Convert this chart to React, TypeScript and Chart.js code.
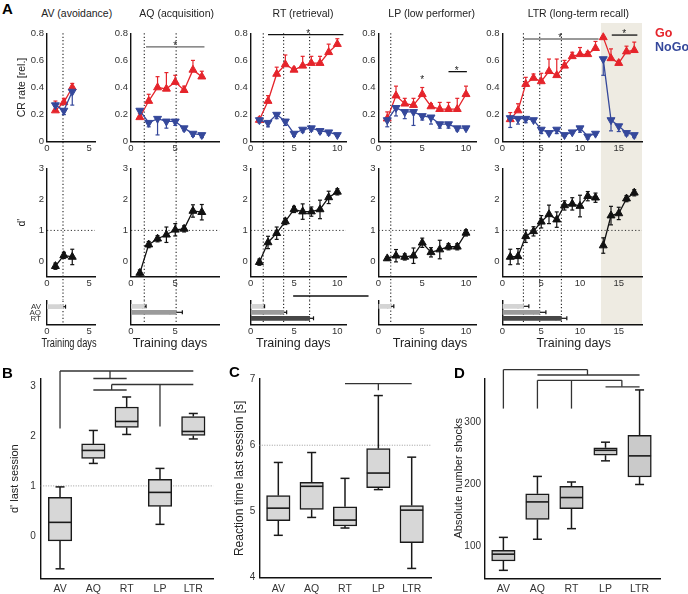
import React, { useEffect, useRef } from 'react';
import { Chart, registerables } from 'chart.js';

Chart.register(...registerables);

const FONT = '"Liberation Sans", Arial, Helvetica, sans-serif';

// ---------------- data ----------------
const groups = ['AV', 'AQ', 'RT', 'LP', 'LTR'];
const panelTitles = ['AV (avoidance)', 'AQ (acquisition)', 'RT (retrieval)', 'LP (low performer)', 'LTR (long-term recall)'];
const critLabels = ['AV', 'AQ', 'RT'];
const crTicks = [0, 0.2, 0.4, 0.6, 0.8];
const dTicks = [0, 1, 2, 3];

// AV (avoidance)
const daysAV = [1, 2, 3];
const goAV = [0.23, 0.29, 0.4];
const goErrAV = [0.07, 0.03, 0.03];
const nogoAV = [0.27, 0.23, 0.37];
const nogoErrAV = [0.04, 0.03, 0.1];
const dAV = [-0.16, 0.19, 0.14];
const dErrAV = [0.1, 0.1, 0.25];
const critAV = [1.9];
const critErrAV = [0.3];

// AQ (acquisition)
const daysAQ = [1, 2, 3, 4, 5, 6, 7, 8];
const goAQ = [0.18, 0.3, 0.4, 0.39, 0.44, 0.38, 0.53, 0.48];
const goErrAQ = [0.03, 0.05, 0.08, 0.12, 0.05, 0.03, 0.07, 0.04];
const nogoAQ = [0.23, 0.14, 0.17, 0.15, 0.15, 0.1, 0.06, 0.05];
const nogoErrAQ = [0.04, 0.03, 0.12, 0.05, 0.03, 0.02, 0.02, 0.02];
const dAQ = [-0.38, 0.54, 0.73, 0.86, 1.02, 1.05, 1.63, 1.59];
const dErrAQ = [0.1, 0.1, 0.1, 0.25, 0.2, 0.1, 0.2, 0.25];
const critAQ = [1.5, 5.1];
const critErrAQ = [0.2, 0.7];

// RT (retrieval)
const daysRT = [1, 2, 3, 4, 5, 6, 7, 8, 9, 10];
const goRT = [0.16, 0.3, 0.5, 0.57, 0.53, 0.56, 0.58, 0.58, 0.66, 0.72];
const goErrRT = [0.02, 0.04, 0.05, 0.07, 0.02, 0.07, 0.05, 0.05, 0.06, 0.04];
const nogoRT = [0.16, 0.14, 0.2, 0.15, 0.06, 0.09, 0.1, 0.08, 0.07, 0.05];
const nogoErrRT = [0.02, 0.03, 0.03, 0.03, 0.02, 0.02, 0.02, 0.02, 0.02, 0.01];
const dRT = [-0.03, 0.61, 0.91, 1.29, 1.68, 1.61, 1.61, 1.68, 2.07, 2.25];
const dErrRT = [0.1, 0.2, 0.2, 0.1, 0.1, 0.25, 0.15, 0.3, 0.2, 0.1];
const critRT = [1.45, 3.8, 6.8];
const critErrRT = [0.15, 0.35, 0.45];

// LP (low performer)
const daysLP = [1, 2, 3, 4, 5, 6, 7, 8, 9, 10];
const goLP = [0.17, 0.34, 0.28, 0.27, 0.35, 0.26, 0.24, 0.24, 0.24, 0.35];
const goErrLP = [0.05, 0.07, 0.04, 0.05, 0.05, 0.02, 0.05, 0.05, 0.08, 0.06];
const nogoLP = [0.16, 0.25, 0.22, 0.22, 0.19, 0.18, 0.13, 0.13, 0.1, 0.1];
const nogoErrLP = [0.05, 0.06, 0.05, 0.1, 0.03, 0.05, 0.03, 0.03, 0.02, 0.01];
const dLP = [0.09, 0.18, 0.14, 0.18, 0.6, 0.29, 0.38, 0.47, 0.47, 0.92];
const dErrLP = [0.05, 0.2, 0.1, 0.25, 0.15, 0.15, 0.3, 0.1, 0.1, 0.1];
const critLP = [1.4];
const critErrLP = [0.35];

// LTR (long-term recall)
const daysLTR = [1, 2, 3, 4, 5, 6, 7, 8, 9, 10, 11, 12, 13, 14, 15, 16, 17];
const goLTR = [0.165, 0.23, 0.425, 0.47, 0.445, 0.52, 0.49, 0.56, 0.63, 0.645, 0.645, 0.69, 0.77, 0.615, 0.58, 0.665, 0.675];
const goErrLTR = [0.05, 0.05, 0.05, 0.03, 0.06, 0.09, 0.12, 0.04, 0.03, 0.05, 0.02, 0.05, 0, 0.07, 0.02, 0.04, 0.06];
const nogoLTR = [0.175, 0.17, 0.17, 0.16, 0.09, 0.065, 0.09, 0.05, 0.07, 0.1, 0.04, 0.06, 0.61, 0.16, 0.115, 0.065, 0.05];
const nogoErrLTR = [0.07, 0.04, 0.03, 0.01, 0.03, 0.01, 0.03, 0.01, 0.01, 0.03, 0.02, 0.01, 0.12, 0.08, 0.04, 0.02, 0.02];
const dLTR = [0.14, 0.16, 0.81, 0.97, 1.28, 1.52, 1.35, 1.81, 1.86, 1.79, 2.11, 2.06, 0.51, 1.48, 1.55, 2.03, 2.22];
const dErrLTR = [0.25, 0.25, 0.2, 0.15, 0.2, 0.3, 0.25, 0.15, 0.2, 0.35, 0.15, 0.15, 0.25, 0.3, 0.2, 0.1, 0.1];
const critLTR = [2.7, 4.8, 7.6];
const critErrLTR = [0.7, 0.8, 0.7];
const recallStartLTR = 12.7;
const gapAfterLTR = 12;

// significance annotations (data units)
const sigAQ = [{ x0: 1.7, x1: 8.3, y: 0.7, color: '#666' }];
const starsAQ = [{ x: 5.0, y: 0.73 }];
const sigRT = [{ x0: 2.0, x1: 10.7, y: 0.79, color: '#111' }];
const starsRT = [{ x: 6.65, y: 0.82 }];
const sigLP = [{ x0: 8.0, x1: 10.1, y: 0.517, color: '#111' }];
const starsLP = [{ x: 5.0, y: 0.475 }, { x: 8.95, y: 0.545 }];
const sigLTR = [{ x0: 2.7, x1: 12.4, y: 0.758, color: '#777' }, { x0: 14.1, x1: 17.4, y: 0.787, color: '#111' }];
const starsLTR = [{ x: 7.45, y: 0.79 }, { x: 15.7, y: 0.818 }];
const crossLineRT = [[4.9, -0.72, 13.6, -0.72]];

// box plots: d' last session
const dMin = [-0.66, 1.45, 2.03, 0.23, 1.94];
const dQ1 = [-0.1, 1.55, 2.17, 0.59, 2.01];
const dMed = [0.27, 1.71, 2.29, 0.87, 2.09];
const dQ3 = [0.77, 1.84, 2.58, 1.13, 2.39];
const dMax = [0.98, 2.11, 2.78, 1.35, 2.45];
const bracketsB = [
  [1, 2.15, 1, 3.3], [1, 3.3, 5, 3.3], [2.5, 3.3, 2.5, 3.15], [2, 3.15, 3, 3.15],
  [2.55, 3.03, 5, 3.03], [4, 3.03, 4, 2.19], [2.55, 3.03, 2.55, 2.92], [2, 2.92, 3, 2.92],
];

// box plots: reaction time last session [s]
const rtMin = [4.64, 4.91, 4.75, 5.33, 4.14];
const rtQ1 = [4.86, 5.03, 4.78, 5.36, 4.53];
const rtMed = [5.05, 5.38, 4.87, 5.58, 5.02];
const rtQ3 = [5.24, 5.44, 5.07, 5.95, 5.09];
const rtMax = [5.74, 5.89, 5.5, 6.75, 5.82];
const bracketsC = [[3, 6.93, 5, 6.93], [4, 6.93, 4, 6.83]];

// box plots: absolute number of shocks
const shMin = [62, 112, 129, 238, 200];
const shQ1 = [77, 144, 161, 247, 212];
const shMed = [88, 172, 179, 255, 246];
const shQ3 = [94, 185, 197, 259, 279];
const shMax = [115, 213, 204, 268, 352];
const bracketsD = [
  [1, 322, 1, 384.6], [1, 384.6, 3.47, 384.6], [3.47, 384.6, 3.47, 376], [2, 376, 5, 376],
  [2, 322, 2, 367.5], [3, 322, 3, 367.5], [2, 367.5, 4.48, 367.5], [4.48, 367.5, 4.48, 357], [4, 357, 5, 357],
];

// ---------------- styling ----------------
const RED = '#e5242b';
const BLUE = '#35489b';
const BLACK = '#111111';
const SHADE = '#eeebe2';
const critColors = ['#d4d4d4', '#9b9b9b', '#474747'];

const cols: any[] = [
  { days: daysAV, go: goAV, goErr: goErrAV, nogo: nogoAV, nogoErr: nogoErrAV, d: dAV, dErr: dErrAV, crit: critAV, critErr: critErrAV, xmax: 5.7, xticks: [0, 5], sig: [], stars: [] },
  { days: daysAQ, go: goAQ, goErr: goErrAQ, nogo: nogoAQ, nogoErr: nogoErrAQ, d: dAQ, dErr: dErrAQ, crit: critAQ, critErr: critErrAQ, xmax: 10, xticks: [0, 5], sig: sigAQ, stars: starsAQ },
  { days: daysRT, go: goRT, goErr: goErrRT, nogo: nogoRT, nogoErr: nogoErrRT, d: dRT, dErr: dErrRT, crit: critRT, critErr: critErrRT, xmax: 11, xticks: [0, 5, 10], sig: sigRT, stars: starsRT, segs: crossLineRT },
  { days: daysLP, go: goLP, goErr: goErrLP, nogo: nogoLP, nogoErr: nogoErrLP, d: dLP, dErr: dErrLP, crit: critLP, critErr: critErrLP, xmax: 11.2, xticks: [0, 5, 10], sig: sigLP, stars: starsLP },
  { days: daysLTR, go: goLTR, goErr: goErrLTR, nogo: nogoLTR, nogoErr: nogoErrLTR, d: dLTR, dErr: dErrLTR, crit: critLTR, critErr: critErrLTR, xmax: 18, xticks: [0, 5, 10, 15], sig: sigLTR, stars: starsLTR, shadeFrom: recallStartLTR, gapAfter: gapAfterLTR },
];

// layout (pixels)
const colL = [47, 131, 250.7, 378.5, 502.5];
const colR = [95, 219.5, 346, 476.5, 642];
const canvasL = [10, 104, 224, 352, 476];
const titleX = [76.7, 176.7, 303, 431.7, 578.3];
const daysLabelX = [69.2, 170, 293.3, 430, 573.7];
const daysLabelSqueeze = [0.74, 1, 1, 1, 1];

type R = { l: number; t: number; r: number; b: number };

// ---------------- plugin ----------------
function line(ctx: any, x0: number, y0: number, x1: number, y1: number) {
  ctx.beginPath();
  ctx.moveTo(x0, y0);
  ctx.lineTo(x1, y1);
  ctx.stroke();
}

function deco(cfg: any) {
  return {
    id: 'deco',
    beforeDraw(chart: any) {
      const { ctx, chartArea: a, scales } = chart;
      const x = scales.x;
      if (cfg.shade) {
        const x0 = x.getPixelForValue(cfg.shade[0]);
        const x1 = x.getPixelForValue(cfg.shade[1]);
        const t = cfg.shadeTop ?? 0;
        const b = cfg.shadeBottom === 'area' ? a.bottom : chart.height;
        ctx.save();
        ctx.fillStyle = SHADE;
        ctx.fillRect(x0, t, x1 - x0, b - t);
        ctx.restore();
      }
    },
    beforeDatasetsDraw(chart: any) {
      const { ctx, chartArea: a, scales } = chart;
      const x = scales.x;
      const y = scales.y;
      ctx.save();
      if (cfg.vlines) {
        ctx.strokeStyle = '#222';
        ctx.lineWidth = 1.1;
        ctx.setLineDash([1.2, 2.2]);
        const t = cfg.vTop === 'area' ? a.top : 0;
        const b = cfg.vBottom === 'area' ? a.bottom : chart.height;
        cfg.vlines.forEach((v: number) => {
          const px = x.getPixelForValue(v);
          line(ctx, px, t, px, b);
        });
      }
      if (cfg.hline != null) {
        ctx.strokeStyle = cfg.hColor || '#333';
        ctx.lineWidth = 1;
        ctx.setLineDash(cfg.hDash || [1.2, 2.2]);
        const py = y.getPixelForValue(cfg.hline);
        line(ctx, a.left, py, a.right, py);
      }
      ctx.setLineDash([]);
      (cfg.errs || []).forEach((e: any) => {
        ctx.strokeStyle = e.color;
        ctx.lineWidth = 1.2;
        e.vals.forEach((v: number, j: number) => {
          const er = e.errs[j];
          if (!er) return;
          if (e.dir === 'x') {
            const py = y.getPixelForValue(j + 1);
            const xa = x.getPixelForValue(v - er);
            const xb = x.getPixelForValue(v + er);
            line(ctx, xa, py, xb, py);
            line(ctx, xa, py - 2, xa, py + 2);
            line(ctx, xb, py - 2, xb, py + 2);
          } else {
            const px = x.getPixelForValue(e.xs[j]);
            const lo = e.dir === 'up' ? v : v - er;
            const hi = e.dir === 'down' ? v : v + er;
            const ya = y.getPixelForValue(lo);
            const yb = y.getPixelForValue(hi);
            line(ctx, px, ya, px, yb);
            if (e.dir !== 'down') line(ctx, px - 2, yb, px + 2, yb);
            if (e.dir !== 'up') line(ctx, px - 2, ya, px + 2, ya);
          }
        });
      });
      if (cfg.box) {
        const bx = cfg.box;
        ctx.strokeStyle = '#1a1a1a';
        ctx.lineWidth = 1.5;
        bx.min.forEach((_: number, j: number) => {
          const px = x.getPixelForValue(j + 1);
          const yMin = y.getPixelForValue(bx.min[j]);
          const yQ1 = y.getPixelForValue(bx.q1[j]);
          const yQ3 = y.getPixelForValue(bx.q3[j]);
          const yMax = y.getPixelForValue(bx.max[j]);
          line(ctx, px, yQ3, px, yMax);
          line(ctx, px - 4.5, yMax, px + 4.5, yMax);
          line(ctx, px, yQ1, px, yMin);
          line(ctx, px - 4.5, yMin, px + 4.5, yMin);
        });
      }
      ctx.restore();
    },
    afterDatasetsDraw(chart: any) {
      const { ctx, scales } = chart;
      const x = scales.x;
      const y = scales.y;
      ctx.save();
      ctx.setLineDash([]);
      if (cfg.box) {
        ctx.strokeStyle = '#1a1a1a';
        ctx.lineWidth = 1.6;
        cfg.box.med.forEach((m: number, j: number) => {
          const px = x.getPixelForValue(j + 1);
          const py = y.getPixelForValue(m);
          line(ctx, px - 11.5, py, px + 11.5, py);
        });
      }
      (cfg.sig || []).forEach((s: any) => {
        ctx.strokeStyle = s.color;
        ctx.lineWidth = 1.3;
        const py = y.getPixelForValue(s.y);
        line(ctx, x.getPixelForValue(s.x0), py, x.getPixelForValue(s.x1), py);
      });
      ctx.fillStyle = '#222';
      ctx.font = `10px ${FONT}`;
      ctx.textAlign = 'center';
      ctx.textBaseline = 'alphabetic';
      (cfg.stars || []).forEach((s: any) => {
        ctx.fillText('*', x.getPixelForValue(s.x), y.getPixelForValue(s.y) + 6);
      });
      if (cfg.segs) {
        ctx.strokeStyle = cfg.segColor || '#111';
        ctx.lineWidth = 1.3;
        cfg.segs.forEach((s: number[]) => {
          line(ctx, x.getPixelForValue(s[0]), y.getPixelForValue(s[1]), x.getPixelForValue(s[2]), y.getPixelForValue(s[3]));
        });
      }
      ctx.restore();
    },
  };
}

// ---------------- chart helpers ----------------
function lin(min: number, max: number, ticks: number[], fmt: (v: number) => string, o: any = {}) {
  return {
    type: 'linear',
    min,
    max,
    bounds: 'data',
    offset: false,
    reverse: !!o.reverse,
    grid: { display: false, drawTicks: false, offset: false },
    border: { display: true, color: '#111', width: 1.4 },
    ticks: {
      display: o.labels !== false,
      font: { family: FONT, size: o.size ?? 9.5 },
      color: '#333',
      padding: o.pad ?? 2,
      autoSkip: false,
      maxRotation: 0,
      minRotation: 0,
      callback: (v: any) => fmt(Number(v)),
    },
    title: o.title
      ? { display: true, text: o.title, font: { family: FONT, size: o.titleSize ?? 10.5 }, color: '#222', padding: o.titlePad ?? { top: 0, bottom: 0 } }
      : { display: false },
    afterBuildTicks: (s: any) => {
      s.ticks = ticks.map((v) => ({ value: v }));
    },
    afterFit: (s: any) => {
      if (o.w != null) s.width = o.w;
      if (o.h != null) s.height = o.h;
    },
  };
}

function make(cv: HTMLCanvasElement, c: R, a: R, type: string, data: any, xs: any, ys: any, plugin: any, extra: any = {}) {
  return new Chart(cv as any, {
    type: type as any,
    data,
    options: {
      animation: false,
      responsive: false,
      maintainAspectRatio: false,
      events: [],
      layout: { padding: { left: 0, right: c.r - a.r, top: a.t - c.t, bottom: 0 } },
      plugins: { legend: { display: false }, tooltip: { enabled: false } },
      scales: { x: xs, y: ys },
      ...extra,
    } as any,
    plugins: [plugin],
  });
}

function lineDs(xs: number[], ys: number[], color: string, rot: number, gapAfter?: number) {
  const ds: any = {
    data: xs.map((x, j) => ({ x, y: ys[j] })),
    borderColor: color,
    backgroundColor: color,
    borderWidth: 1.3,
    pointStyle: 'triangle',
    pointRadius: 4.6,
    pointRotation: rot,
    pointBorderWidth: 1,
    pointBackgroundColor: color,
    pointBorderColor: color,
    tension: 0,
    clip: false,
  };
  if (gapAfter) {
    ds.segment = { borderColor: (ctx: any) => (ctx.p0DataIndex === gapAfter - 1 ? 'rgba(0,0,0,0)' : color) };
  }
  return ds;
}

function boxDs(q1: number[], q3: number[], fill: string) {
  return {
    data: q1.map((v, j) => ({ x: j + 1, y: [v, q3[j]] })),
    backgroundColor: fill,
    borderColor: '#1a1a1a',
    borderWidth: 1.5,
    borderSkipped: false,
    barThickness: 23.5,
  };
}

const fmtCR = (v: number) => (v === 0 ? '0' : v.toFixed(1));
const fmtInt = (v: number) => String(v);

type Spec = { c: R; build: (cv: HTMLCanvasElement) => Chart };
const specs: Spec[] = [];

// top row (CR rate)
cols.forEach((col, i) => {
  const c = { l: canvasL[i], t: 20, r: Math.round(colR[i] + 10), b: 160 };
  const a = { l: colL[i], t: 33.3, r: colR[i], b: 141.7 };
  specs.push({
    c,
    build: (cv) =>
      make(
        cv, c, a, 'line',
        { datasets: [lineDs(col.days, col.nogo, BLUE, 180, col.gapAfter), lineDs(col.days, col.go, RED, 0, col.gapAfter)] },
        lin(0, col.xmax, col.xticks, fmtInt, { h: c.b - a.b, pad: 1 }),
        lin(0, 0.8, crTicks, fmtCR, { w: a.l - c.l, pad: 3, title: i === 0 ? 'CR rate [rel.]' : undefined, titlePad: { top: 5.4, bottom: 0 } }),
        deco({
          vlines: col.crit, vTop: 'area', vBottom: 'canvas',
          shade: col.shadeFrom ? [col.shadeFrom, col.xmax] : null, shadeTop: 3,
          errs: [
            { xs: col.days, vals: col.nogo, errs: col.nogoErr, dir: 'down', color: BLUE },
            { xs: col.days, vals: col.go, errs: col.goErr, dir: 'up', color: RED },
          ],
          sig: col.sig, stars: col.stars,
        })
      ),
  });
});

// middle row (d')
cols.forEach((col, i) => {
  const c = { l: canvasL[i], t: 160, r: Math.round(colR[i] + 10), b: 300 };
  const a = { l: colL[i], t: 168.3, r: colR[i], b: 276.7 };
  specs.push({
    c,
    build: (cv) =>
      make(
        cv, c, a, 'line',
        { datasets: [lineDs(col.days, col.d, BLACK, 0, col.gapAfter)] },
        lin(0, col.xmax, col.xticks, fmtInt, { h: c.b - a.b, pad: 1 }),
        lin(-0.5, 3, dTicks, fmtInt, { w: a.l - c.l, pad: 3, title: i === 0 ? "d'" : undefined, titlePad: { top: 5.4, bottom: 0 } }),
        deco({
          vlines: col.crit, vTop: 'canvas', vBottom: 'canvas',
          shade: col.shadeFrom ? [col.shadeFrom, col.xmax] : null, shadeTop: 0,
          hline: 1, hColor: '#333', hDash: [1.2, 2.2],
          errs: [{ xs: col.days, vals: col.d, errs: col.dErr, dir: 'both', color: BLACK }],
        })
      ),
  });
});

// bottom row (days to criterion)
cols.forEach((col, i) => {
  const c = { l: canvasL[i], t: 290, r: Math.round(colR[i] + (i === 2 ? 26 : 10)), b: 336 };
  const a = { l: colL[i], t: 300.3, r: colR[i], b: 324.3 };
  specs.push({
    c,
    build: (cv) =>
      make(
        cv, c, a, 'bar',
        {
          datasets: [
            {
              data: col.crit.map((v: number, j: number) => ({ x: v, y: j + 1 })),
              backgroundColor: critColors.slice(0, col.crit.length),
              borderWidth: 0,
              barThickness: 4,
            },
          ],
        },
        lin(0, col.xmax, col.xticks, fmtInt, { h: c.b - a.b, pad: 1 }),
        lin(0, 4, [1, 2, 3], (v) => critLabels[v - 1] || '', { w: a.l - c.l, pad: 6, size: 8, reverse: true, labels: i === 0 }),
        deco({
          vlines: col.crit, vTop: 'area', vBottom: 'area',
          shade: col.shadeFrom ? [col.shadeFrom, col.xmax] : null, shadeTop: 0, shadeBottom: 'area',
          errs: [{ vals: col.crit, errs: col.critErr, dir: 'x', color: BLACK }],
          segs: col.segs,
        }),
        { indexAxis: 'y' }
      ),
  });
});

// panel B
{
  const c = { l: 0, t: 360, r: 222, b: 594 };
  const a = { l: 40.7, t: 379, r: 213.3, b: 578.3 };
  specs.push({
    c,
    build: (cv) =>
      make(
        cv, c, a, 'bar',
        { datasets: [boxDs(dQ1, dQ3, '#d7d7d7')] },
        lin(0.42, 5.6, [1, 2, 3, 4, 5], (v) => groups[v - 1] || '', { h: c.b - a.b, pad: 5, size: 10.5 }),
        lin(-0.85, 3.14, [0, 1, 2, 3], fmtInt, { w: a.l - c.l, pad: 5, size: 10, title: "d' last session", titleSize: 11, titlePad: { top: 8.4, bottom: 0 } }),
        deco({ hline: 1, hColor: '#9a9a9a', hDash: [1, 1.5], box: { min: dMin, q1: dQ1, med: dMed, q3: dQ3, max: dMax }, segs: bracketsB, segColor: '#333' })
      ),
  });
}

// panel C
{
  const c = { l: 230, t: 360, r: 442, b: 594 };
  const a = { l: 259.3, t: 379, r: 431.7, b: 577.7 };
  specs.push({
    c,
    build: (cv) =>
      make(
        cv, c, a, 'bar',
        { datasets: [boxDs(rtQ1, rtQ3, '#d7d7d7')] },
        lin(0.43, 5.6, [1, 2, 3, 4, 5], (v) => groups[v - 1] || '', { h: c.b - a.b, pad: 5, size: 10.5 }),
        lin(4, 7, [4, 5, 6, 7], fmtInt, { w: a.l - c.l, pad: 4, size: 10, title: 'Reaction time last session [s]', titleSize: 12, titlePad: { top: 2.8, bottom: 0 } }),
        deco({ hline: 6, hColor: '#9a9a9a', hDash: [1, 1.5], box: { min: rtMin, q1: rtQ1, med: rtMed, q3: rtQ3, max: rtMax }, segs: bracketsC, segColor: '#333' })
      ),
  });
}

// panel D
{
  const c = { l: 452, t: 360, r: 675, b: 594 };
  const a = { l: 485, t: 378.3, r: 660, b: 578.3 };
  specs.push({
    c,
    build: (cv) =>
      make(
        cv, c, a, 'bar',
        { datasets: [boxDs(shQ1, shQ3, '#cacaca')] },
        lin(0.46, 5.6, [1, 2, 3, 4, 5], (v) => groups[v - 1] || '', { h: c.b - a.b, pad: 5, size: 10.5 }),
        lin(49.2, 370.7, [100, 200, 300], fmtInt, { w: a.l - c.l, pad: 4, size: 10, title: 'Absolute number shocks', titleSize: 11, titlePad: { top: 0.7, bottom: 0 } }),
        deco({ box: { min: shMin, q1: shQ1, med: shMed, q3: shQ3, max: shMax }, segs: bracketsD, segColor: '#333' })
      ),
  });
}

// ---------------- component ----------------
const txt = (x: number, y: number, size: number, extra: any = {}): any => ({
  position: 'absolute',
  left: x,
  top: y,
  fontFamily: FONT,
  fontSize: size,
  lineHeight: 1,
  whiteSpace: 'nowrap',
  color: '#222',
  ...extra,
});

export default function App() {
  const refs = useRef<(HTMLCanvasElement | null)[]>([]);

  useEffect(() => {
    const charts = specs.map((s, i) => s.build(refs.current[i] as HTMLCanvasElement));
    return () => {
      charts.forEach((ch) => ch.destroy());
    };
  }, []);

  return (
    <div style={{ position: 'absolute', left: 0, top: 0, width: 688, height: 594, overflow: 'hidden', background: '#fff' }}>
      {specs.map((s, i) => (
        <canvas
          key={i}
          ref={(el) => {
            refs.current[i] = el;
          }}
          width={s.c.r - s.c.l}
          height={s.c.b - s.c.t}
          style={{ position: 'absolute', left: s.c.l, top: s.c.t, width: s.c.r - s.c.l, height: s.c.b - s.c.t }}
        />
      ))}
      {panelTitles.map((t, i) => (
        <div key={t} style={txt(titleX[i], 13, 10.5, { transform: 'translate(-50%, -50%)' })}>
          {t}
        </div>
      ))}
      {daysLabelX.map((x, i) => (
        <div key={'td' + i} style={txt(x, 343.3, 12.5, { transform: `translate(-50%, -50%) scaleX(${daysLabelSqueeze[i]})` })}>
          Training days
        </div>
      ))}
      <div style={txt(2, 8, 15, { fontWeight: 'bold', color: '#000', transform: 'translateY(-50%)' })}>A</div>
      <div style={txt(2, 372, 15, { fontWeight: 'bold', color: '#000', transform: 'translateY(-50%)' })}>B</div>
      <div style={txt(229, 371, 15, { fontWeight: 'bold', color: '#000', transform: 'translateY(-50%)' })}>C</div>
      <div style={txt(454, 372, 15, { fontWeight: 'bold', color: '#000', transform: 'translateY(-50%)' })}>D</div>
      <div style={txt(655, 33, 12.5, { fontWeight: 'bold', color: RED, transform: 'translateY(-50%)' })}>Go</div>
      <div style={txt(655, 47, 12.5, { fontWeight: 'bold', color: BLUE, transform: 'translateY(-50%)' })}>NoGo</div>
    </div>
  );
}
